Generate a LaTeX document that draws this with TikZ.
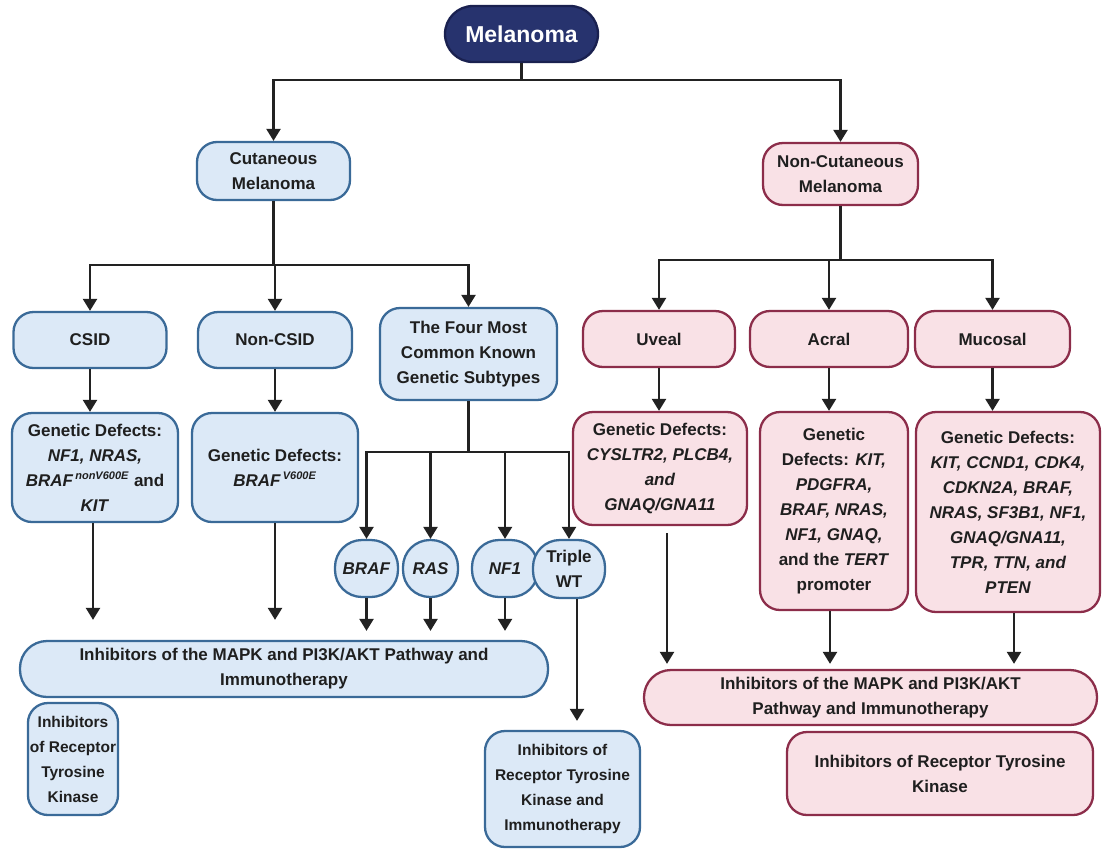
\documentclass[tikz,border=0pt]{standalone}
\usepackage{fontspec}
\setmainfont{Liberation Sans}
\usetikzlibrary{arrows.meta}
\definecolor{bfill}{HTML}{DCE9F7}
\definecolor{bdraw}{HTML}{3A6A98}
\definecolor{pfill}{HTML}{F9E1E6}
\definecolor{pdraw}{HTML}{8C2D4A}
\definecolor{nfill}{HTML}{27336E}
\definecolor{ndraw}{HTML}{1A2150}
\definecolor{lc}{HTML}{222222}
\newcommand{\gi}[1]{\textit{#1}}
\newcommand{\sups}[1]{\textsuperscript{\,\fontsize{11}{11}\selectfont\textit{#1}}}
\tikzset{
 base/.style={draw, line width=2.3pt, align=center, inner sep=2pt, text=black!88,
   font=\fontsize{17}{25}\selectfont\bfseries},
 smallfont/.style={font=\fontsize{15.5}{25}\selectfont\bfseries},
 bluebox/.style={base, fill=bfill, draw=bdraw, rounded corners=20pt},
 pinkbox/.style={base, fill=pfill, draw=pdraw, rounded corners=20pt},
 pill/.style={rounded corners=27pt},
 conn/.style={line width=2.4pt, draw=lc},
 arr/.style={conn, -{Triangle[width=14pt,length=12pt]}},
}
\begin{document}
\begin{tikzpicture}[x=1pt,y=-1pt]
\useasboundingbox (0,0) rectangle (1102,849);
% top
\node[base, fill=nfill, draw=ndraw, rounded corners=28pt, text=white, font=\fontsize{23}{25}\selectfont\bfseries, minimum width=153, minimum height=56] (mel) at (521.5,34) {Melanoma};
\node[bluebox, minimum width=153, minimum height=58] (cut) at (273.5,171) {Cutaneous\\Melanoma};
\node[pinkbox, minimum width=155, minimum height=62] (ncut) at (840.5,174) {Non-Cutaneous\\Melanoma};
% second level
\node[bluebox, minimum width=153, minimum height=56] (csid) at (90,340) {CSID};
\node[bluebox, minimum width=154, minimum height=56] (noncsid) at (275,340) {Non-CSID};
\node[bluebox, minimum width=177, minimum height=92] (four) at (468.5,354) {The Four Most\\Common Known\\Genetic Subtypes};
\node[pinkbox, minimum width=152, minimum height=56] (uv) at (659,339) {Uveal};
\node[pinkbox, minimum width=158, minimum height=56] (ac) at (829,339) {Acral};
\node[pinkbox, minimum width=155, minimum height=56] (mu) at (992.5,339) {Mucosal};
% defects
\node[bluebox, minimum width=166, minimum height=109] (csdef) at (95,467.5) {Genetic Defects:\\\gi{NF1, NRAS,}\\\gi{BRAF}\sups{nonV600E} and\\\gi{KIT}};
\node[bluebox, minimum width=166, minimum height=109] (ncdef) at (275,467.5) {Genetic Defects:\\\gi{BRAF}\sups{V600E}};
\node[pinkbox, minimum width=174, minimum height=113] (uvdef) at (660,468.5) {Genetic Defects:\\\gi{CYSLTR2, PLCB4,}\\\gi{and}\\\gi{GNAQ/GNA11}};
\node[pinkbox, minimum width=148, minimum height=198] (acdef) at (834,511) {Genetic\\Defects: \gi{KIT,}\\\gi{PDGFRA,}\\\gi{BRAF, NRAS,}\\\gi{NF1, GNAQ,}\\and the \gi{TERT}\\promoter};
\node[pinkbox, minimum width=184, minimum height=200] (mudef) at (1008,512) {Genetic Defects:\\\gi{KIT, CCND1, CDK4,}\\\gi{CDKN2A, BRAF,}\\\gi{NRAS, SF3B1, NF1,}\\\gi{GNAQ/GNA11,}\\\gi{TPR, TTN, and}\\\gi{PTEN}};
% subtypes
\node[bluebox, rounded corners=27pt, minimum width=63, minimum height=57] (braf) at (366.5,568.5) {\gi{BRAF}};
\node[bluebox, rounded corners=27pt, minimum width=55, minimum height=57] (ras) at (430.5,568.5) {\gi{RAS}};
\node[bluebox, rounded corners=27pt, minimum width=66, minimum height=57] (nf) at (505,568.5) {\gi{NF1}};
\node[bluebox, rounded corners=27pt, minimum width=72, minimum height=58] (twt) at (569,569) {Triple\\WT};
% therapies
\node[bluebox, pill, minimum width=528, minimum height=56] (lmapk) at (284,669) {Inhibitors of the MAPK and PI3K/AKT Pathway and\\Immunotherapy};
\node[bluebox, smallfont, minimum width=90, minimum height=112] (lrtk) at (73,759) {Inhibitors\\of Receptor\\Tyrosine\\Kinase};
\node[bluebox, smallfont, minimum width=155, minimum height=116] (rtkimm) at (562.5,789) {Inhibitors of\\Receptor Tyrosine\\Kinase and\\Immunotherapy};
\node[pinkbox, pill, minimum width=453, minimum height=55] (rmapk) at (870.5,697.5) {Inhibitors of the MAPK and PI3K/AKT\\Pathway and Immunotherapy};
\node[pinkbox, minimum width=306, minimum height=83] (rrtk) at (940,773.5) {Inhibitors of Receptor Tyrosine\\Kinase};
% connectors top
\coordinate (j0) at (521.5,80);
\draw[conn] (mel.south) -- (j0);
\draw[arr] (j0) -| (cut.north);
\draw[arr] (j0) -| (ncut.north);
\coordinate (j1) at (273.5,265);
\draw[conn] (cut.south) -- (j1);
\draw[arr] (j1) -| (csid.north);
\draw[arr] (j1) -| (noncsid.north);
\draw[arr] (j1) -| (four.north);
\coordinate (j2) at (840.5,260);
\draw[conn] (ncut.south) -- (j2);
\draw[arr] (j2) -| (uv.north);
\draw[arr] (j2) -| (ac.north);
\draw[arr] (j2) -| (mu.north);
% to defects
\draw[arr] (csid.south) -- (csdef.north -| csid.south);
\draw[arr] (noncsid.south) -- (ncdef.north);
\draw[arr] (uv.south) -- (uvdef.north -| uv.south);
\draw[arr] (ac.south) -- (acdef.north -| ac.south);
\draw[arr] (mu.south) -- (mudef.north -| mu.south);
% subtypes
\coordinate (j3) at (468.5,452);
\draw[conn] (four.south) -- (j3);
\draw[arr] (j3) -| (braf.north);
\draw[arr] (j3) -| (ras.north);
\draw[arr] (j3) -| (nf.north);
\draw[arr] (j3) -| (twt.north);
% to therapies
\draw[arr, shorten >=20pt] ([xshift=-2pt]csdef.south) -- ([xshift=-2pt]csdef.south |- lmapk.north);
\draw[arr, shorten >=20pt] (ncdef.south) -- (ncdef.south |- lmapk.north);
\draw[arr, shorten >=9pt] (braf.south) -- (braf.south |- lmapk.north);
\draw[arr, shorten >=9pt] (ras.south) -- (ras.south |- lmapk.north);
\draw[arr, shorten >=9pt] (nf.south) -- (nf.south |- lmapk.north);
\draw[arr, shorten >=9pt] ([xshift=8pt]twt.south) -- ([xshift=8pt]twt.south |- rtkimm.north);
\draw[arr, shorten <=7pt, shorten >=5pt] ([xshift=7pt]uvdef.south) -- ([xshift=7pt]uvdef.south |- rmapk.north);
\draw[arr, shorten >=5pt] ([xshift=-4pt]acdef.south) -- ([xshift=-4pt]acdef.south |- rmapk.north);
\draw[arr, shorten >=5pt] ([xshift=6pt]mudef.south) -- ([xshift=6pt]mudef.south |- rmapk.north);
\end{tikzpicture}
\end{document}
